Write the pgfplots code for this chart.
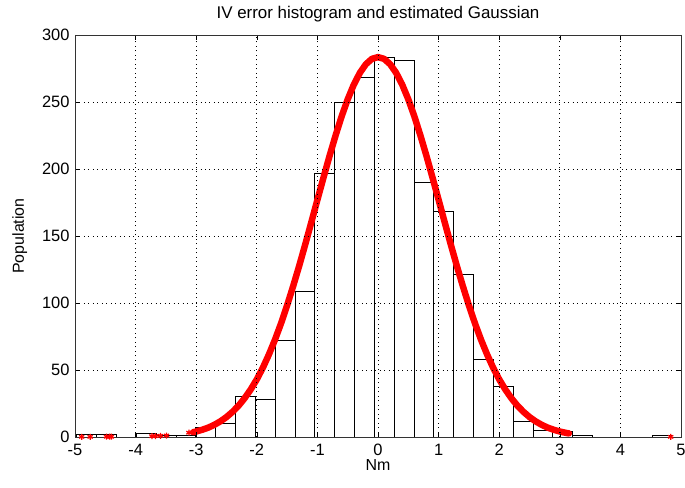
\documentclass[border=0pt]{standalone}
\usepackage{pgfplots}
\pgfplotsset{compat=1.18}
\usepackage{fontspec}
\setmainfont{Liberation Sans}
\begin{document}
\begin{tikzpicture}
\begin{axis}[
  scale only axis,
  width=606bp, height=402bp,
  xmin=-5, xmax=5, ymin=0, ymax=300,
  xtick={-5,-4,...,5}, ytick={0,50,...,300},
  /pgf/number format/assume math mode=true,
  tick label style={font=\fontsize{16.5}{19}\selectfont},
  label style={font=\fontsize{16}{19}\selectfont},
  title style={font=\fontsize{17}{20}\selectfont, yshift=3bp},
  title={IV error histogram and estimated Gaussian},
  xlabel={Nm}, ylabel={Population},
  xlabel style={yshift=3bp},
  ylabel style={yshift=8bp},
  grid=major,
  major grid style={black, dash pattern=on 1pt off 3.5pt, line width=0.8pt},
  tick align=inside,
  major tick length=5bp,
  tick style={black, line width=0.6pt},
  axis line style={black!80, line width=0.8pt},
  axis on top,
  xticklabel style={yshift=-4bp},
  yticklabel style={xshift=-2bp},
]
\addplot[ybar interval, fill=white, draw=black, line width=0.8pt] coordinates {
(-4.970,2) (-4.643,2) (-4.315,0) (-3.988,3) (-3.661,1) (-3.334,1)
(-3.006,7) (-2.679,10) (-2.352,30) (-2.024,28) (-1.697,72) (-1.370,109)
(-1.042,197) (-0.715,250) (-0.388,268) (-0.061,283) (0.267,281) (0.594,190)
(0.921,168) (1.249,121) (1.576,58) (1.903,38) (2.231,12) (2.558,5)
(2.885,4) (3.213,1) (3.540,0) (3.867,0) (4.194,0) (4.522,1) (4.849,1)
};
\addplot[red, line width=6.5pt, line cap=round, line join=round] coordinates {
(-3.05,3.6) (-3.0,4.1) (-2.9,5.4) (-2.8,7.0) (-2.7,9.1) (-2.6,11.7) (-2.5,14.9)
(-2.4,18.8) (-2.3,23.4) (-2.2,29.0) (-2.1,35.5) (-2.0,43.0) (-1.9,51.7)
(-1.8,61.6) (-1.7,72.6) (-1.6,84.8) (-1.5,98.2) (-1.4,112.6) (-1.3,127.8)
(-1.2,143.8) (-1.1,160.3) (-1.0,177.0) (-0.9,193.5) (-0.8,209.7) (-0.7,225.0)
(-0.6,239.3) (-0.5,252.0) (-0.4,262.9) (-0.3,271.7) (-0.2,278.2) (-0.1,282.2)
(0.0,283.5) (0.1,282.2) (0.2,278.2) (0.3,271.7) (0.4,262.9) (0.5,252.0)
(0.6,239.3) (0.7,225.0) (0.8,209.7) (0.9,193.5) (1.0,177.0) (1.1,160.3)
(1.2,143.8) (1.3,127.8) (1.4,112.6) (1.5,98.2) (1.6,84.8) (1.7,72.6)
(1.8,61.6) (1.9,51.7) (2.0,43.0) (2.1,35.5) (2.2,29.0) (2.3,23.4)
(2.4,18.8) (2.5,14.9) (2.6,11.7) (2.7,9.1) (2.8,7.0) (2.9,5.4)
(3.0,4.1) (3.1,3.1) (3.15,2.7)
};
\addplot[only marks, red, mark=asterisk, mark size=3pt, line width=1.3pt] coordinates {
(-4.89,0.1) (-4.75,0.1) (-4.48,0.2) (-4.43,0.2) (-4.40,0.2)
(-3.73,0.6) (-3.67,0.7) (-3.59,0.9) (-3.49,1.1) (-3.12,3.2)
(3.05,3.6) (3.12,2.9) (4.83,0.1)
};
\end{axis}
\pgfresetboundingbox
\path (-75bp,-51bp) rectangle (610bp,437bp);
\end{tikzpicture}
\end{document}
